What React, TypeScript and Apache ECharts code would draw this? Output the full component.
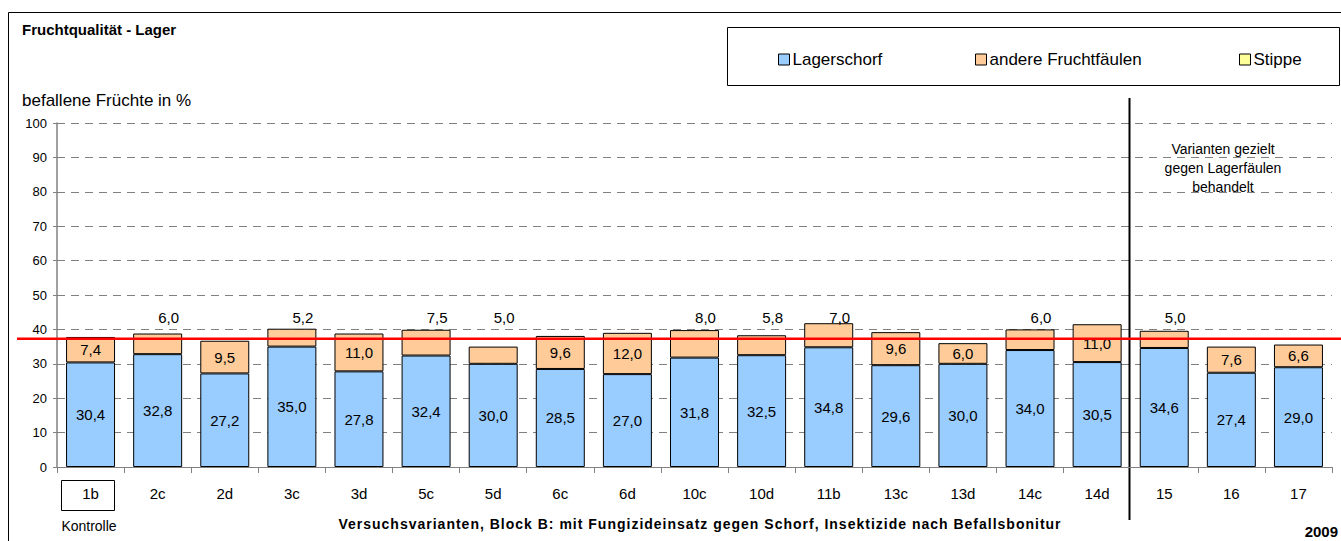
import React, { useEffect, useRef } from "react";
import * as echarts from "echarts";

const categories = ["1b", "2c", "2d", "3c", "3d", "5c", "5d", "6c", "6d", "10c", "10d", "11b", "13c", "13d", "14c", "14d", "15", "16", "17"];
const lagerschorf = [30.4, 32.8, 27.2, 35.0, 27.8, 32.4, 30.0, 28.5, 27.0, 31.8, 32.5, 34.8, 29.6, 30.0, 34.0, 30.5, 34.6, 27.4, 29.0];
const andereFruchtfaeulen = [7.4, 6.0, 9.5, 5.2, 11.0, 7.5, 5.0, 9.6, 12.0, 8.0, 5.8, 7.0, 9.6, 6.0, 6.0, 11.0, 5.0, 7.6, 6.6];
const stippe = [0, 0, 0, 0, 0, 0, 0, 0, 0, 0, 0, 0, 0, 0, 0, 0, 0, 0, 0];
const labelAbove = [false, true, false, true, false, true, true, false, false, true, true, true, false, false, true, false, true, false, false];
const referenceLevel = 37.3;
const aboveLabelLevel = 43.6;
const yMin = 0;
const yMax = 100;
const yInterval = 10;

const FONT = "'Liberation Sans', Arial, sans-serif";
const GRID_LEFT = 57;
const GRID_TOP = 123;
const GRID_W = 1275;
const GRID_H = 344;
const PX = GRID_H / (yMax - yMin);
const X_TITLE = "Versuchsvarianten, Block B: mit Fungizideinsatz gegen Schorf, Insektizide nach Befallsbonitur";

const fmt = (v: number) => v.toFixed(1).replace(".", ",");

export default function App() {
  const ref = useRef<HTMLDivElement>(null);
  useEffect(() => {
    if (!ref.current) return;
    const chart = echarts.init(ref.current, undefined, { renderer: "svg" });
    const orangeData = andereFruchtfaeulen.map((v, i) => {
      if (!labelAbove[i]) return v;
      const total = lagerschorf[i] + v;
      return {
        value: v,
        label: {
          position: "top",
          distance: 0,
          offset: [11, -((aboveLabelLevel - total) * PX) + 8],
        },
      };
    });
    chart.setOption({
      animation: false,
      backgroundColor: "#ffffff",
      textStyle: { fontFamily: FONT },
      grid: { left: GRID_LEFT, top: GRID_TOP, width: GRID_W, height: GRID_H, containLabel: false },
      legend: [
        { data: ["Lagerschorf"], left: 773, top: 46 },
        { data: ["andere Fruchtfäulen"], left: 970, top: 46 },
        { data: ["Stippe"], left: 1234, top: 46 },
      ].map((l) => ({
        ...l,
        itemWidth: 11,
        itemHeight: 11,
        icon: "rect",
        itemStyle: { borderColor: "#000", borderWidth: 1 },
        textStyle: { fontSize: 17, color: "#000", fontFamily: FONT, padding: [0, 0, 0, -2] },
        selectedMode: false,
      })),
      xAxis: {
        type: "category",
        data: categories,
        axisLine: { lineStyle: { color: "#808080", width: 1 } },
        axisTick: { show: true, alignWithLabel: false, length: 6, lineStyle: { color: "#808080" } },
        axisLabel: { fontSize: 15, color: "#000", margin: 19, fontFamily: FONT, interval: 0 },
      },
      yAxis: {
        type: "value",
        min: yMin,
        max: yMax,
        interval: yInterval,
        axisLine: { show: true, lineStyle: { color: "#808080", width: 1.5 } },
        axisTick: { show: true, length: 4, lineStyle: { color: "#808080" } },
        axisLabel: { fontSize: 13, color: "#000", margin: 10, fontFamily: FONT },
        splitLine: { show: true, lineStyle: { color: "#808080", type: [8, 6], width: 1 } },
      },
      series: [
        {
          name: "Lagerschorf",
          type: "bar",
          stack: "s",
          barCategoryGap: "27%",
          data: lagerschorf,
          itemStyle: { color: "#99CCFF", borderColor: "#000", borderWidth: 1 },
          label: { show: true, position: "inside", fontSize: 15, color: "#000", fontFamily: FONT, formatter: (p: any) => fmt(p.value) },
        },
        {
          name: "andere Fruchtfäulen",
          type: "bar",
          stack: "s",
          data: orangeData,
          itemStyle: { color: "#FFCC99", borderColor: "#000", borderWidth: 1 },
          label: { show: true, position: "inside", fontSize: 15, color: "#000", fontFamily: FONT, formatter: (p: any) => fmt(p.value) },
        },
        {
          name: "Stippe",
          type: "bar",
          stack: "s",
          data: stippe,
          itemStyle: { color: "#FFFF99", borderColor: "#000", borderWidth: 0 },
          label: { show: false },
        },
      ],
    });
    const yRef = chart.convertToPixel({ yAxisIndex: 0 }, referenceLevel) as number;
    chart.setOption({
      graphic: [
        { type: "rect", shape: { x: 8.5, y: 12.5, width: 1340, height: 540 }, style: { fill: "none", stroke: "#000", lineWidth: 1 }, silent: true, z: -1 },
        { type: "rect", shape: { x: 727.5, y: 27.5, width: 612, height: 58 }, style: { fill: "none", stroke: "#000", lineWidth: 1 }, silent: true },
        { type: "text", left: 22, top: 22, style: { text: "Fruchtqualität - Lager", font: `bold 15px ${FONT}`, fill: "#000" } },
        { type: "text", left: 22, top: 92, style: { text: "befallene Früchte in %", font: `17px ${FONT}`, fill: "#000" } },
        { type: "rect", shape: { x: 61.5, y: 480.5, width: 53, height: 30 }, style: { fill: "none", stroke: "#000", lineWidth: 1 }, silent: true },
        { type: "text", x: 89, y: 526, style: { text: "Kontrolle", font: `14px ${FONT}`, fill: "#000", align: "center", verticalAlign: "middle" } },
        { type: "text", x: 700, y: 524, style: { text: X_TITLE, font: `bold 14px ${FONT}`, fill: "#000", align: "center", verticalAlign: "middle" } },
        { type: "text", x: 1338, y: 531, style: { text: "2009", font: `bold 15px ${FONT}`, fill: "#000", align: "right", verticalAlign: "middle" } },
        { type: "line", shape: { x1: 1129.5, y1: 98, x2: 1129.5, y2: 520 }, style: { stroke: "#000", lineWidth: 2 }, silent: true },
        { type: "text", x: 1223, y: 168, style: { text: "Varianten gezielt\ngegen Lagerfäulen\nbehandelt", font: `14px ${FONT}`, fill: "#000", align: "center", verticalAlign: "middle", lineHeight: 19 } },
        { type: "line", shape: { x1: 17, y1: yRef, x2: 1341, y2: yRef }, style: { stroke: "#FF0000", lineWidth: 2.5 }, silent: true, z: 10 },
      ],
    });
    ref.current.querySelectorAll("text").forEach((t) => {
      if (t.textContent === X_TITLE) t.setAttribute("letter-spacing", "1");
    });
    return () => chart.dispose();
  }, []);
  return <div ref={ref} style={{ position: "absolute", left: 0, top: 0, width: 1341, height: 541 }} />;
}
